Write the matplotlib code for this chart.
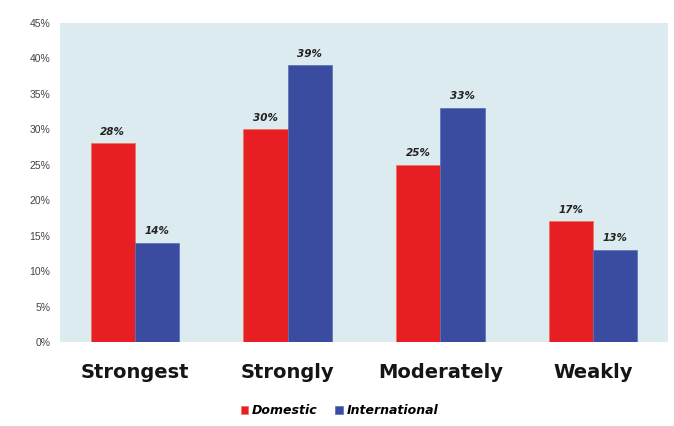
import matplotlib.pyplot as plt
import numpy as np

# chart data
categories = ['Strongest', 'Strongly', 'Moderately', 'Weakly']
domestic = [28, 30, 25, 17]
international = [14, 39, 33, 13]
yticks = [0, 5, 10, 15, 20, 25, 30, 35, 40, 45]

red = '#e81e25'
blue = '#3a4ca0'

plt.rcParams['font.family'] = ['Liberation Sans', 'DejaVu Sans']

fig = plt.figure(figsize=(6.74, 4.26), dpi=100)
ax = fig.add_axes([0.089, 0.197, 0.902, 0.75])
ax.set_facecolor('#dcebf0')

x = np.arange(len(categories))
w = 0.29
b1 = ax.bar(x - w / 2, domestic, w, color=red, edgecolor='#f07050', linewidth=0.5, label='Domestic')
b2 = ax.bar(x + w / 2, international, w, color=blue, edgecolor='#5a6cb8', linewidth=0.5, label='International')

# value labels on top of bars
for bars, vals in [(b1, domestic), (b2, international)]:
    for rect, v in zip(bars, vals):
        ax.text(rect.get_x() + rect.get_width() / 2, v + 0.9, f'{v}%',
                ha='center', va='bottom', fontsize=7.5, fontweight='bold',
                style='italic', color='#222222', family='DejaVu Sans')

ax.set_xlim(-0.49, 3.49)
ax.set_ylim(0, 45)
ax.set_yticks(yticks)
ax.set_yticklabels([f'{t}%' for t in yticks], fontsize=7.5, color='#444444')
ax.set_xticks(x)
ax.set_xticklabels(categories, fontsize=14, fontweight='bold', color='#151515',
                   family='DejaVu Sans')
ax.tick_params(axis='both', length=0)
ax.tick_params(axis='y', pad=7)
ax.tick_params(axis='x', pad=15)
for s in ax.spines.values():
    s.set_visible(False)

leg = ax.legend(loc='upper center', bbox_to_anchor=(0.46, -0.16), ncol=2,
                frameon=False, handlelength=0.6, handleheight=0.6,
                handletextpad=0.3, columnspacing=1.4,
                prop={'family': 'DejaVu Sans', 'size': 9, 'weight': 'bold', 'style': 'italic'})

fig.savefig('out.png', dpi=100, facecolor='white')
